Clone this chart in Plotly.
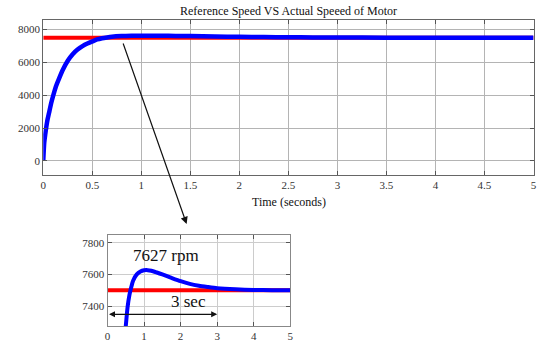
import plotly.graph_objects as go

# ---- data ----
time_s = [0, 0.01, 0.02, 0.04, 0.06, 0.08, 0.1, 0.13, 0.16, 0.2, 0.25, 0.3, 0.35, 0.4, 0.45,
          0.5, 0.55, 0.6, 0.65, 0.7, 0.8, 0.9, 1.0, 1.1, 1.2, 1.35, 1.5, 1.75, 2.0, 2.25,
          2.5, 2.75, 3.0, 3.5, 4.0, 4.5, 5.0]
actual_speed = [0, 1100, 1600, 2400, 2950, 3500, 3950, 4550, 5000, 5550, 6100, 6500, 6780, 6990, 7150,
                7275, 7395, 7470, 7520, 7560, 7600, 7618, 7626, 7627, 7623, 7612, 7600, 7578, 7557, 7540,
                7528, 7520, 7513, 7506, 7502, 7500, 7500]
ref_time = [0, 5]
ref_speed = [7500, 7500]

main_xticks = [0, 0.5, 1, 1.5, 2, 2.5, 3, 3.5, 4, 4.5, 5]
main_yticks = [0, 2000, 4000, 6000, 8000]
inset_xticks = [0, 1, 2, 3, 4, 5]
inset_yticks = [7400, 7600, 7800]

title_text = "Reference Speed VS Actual Speeed of Motor"
xlabel_text = "Time (seconds)"
peak_label = "7627 rpm"
settle_label = "3 sec"
settle_time = 3
arrow_y = 7348

W, H = 539, 347
FONT = "Liberation Serif, Times New Roman, serif"

def px(x):
    return x / W

def py(y):
    return 1 - y / H

fig = go.Figure()

# main
fig.add_trace(go.Scatter(x=ref_time, y=ref_speed, mode="lines",
                         line=dict(color="#ff0000", width=4), xaxis="x", yaxis="y"))
fig.add_trace(go.Scatter(x=time_s, y=actual_speed, mode="lines",
                         line=dict(color="#0000ff", width=4.5, shape="spline", smoothing=0.6),
                         xaxis="x", yaxis="y"))
# inset
fig.add_trace(go.Scatter(x=ref_time, y=ref_speed, mode="lines",
                         line=dict(color="#ff0000", width=4), xaxis="x2", yaxis="y2"))
fig.add_trace(go.Scatter(x=time_s, y=actual_speed, mode="lines",
                         line=dict(color="#0000ff", width=4, shape="spline", smoothing=0.6),
                         xaxis="x2", yaxis="y2"))

axis_common = dict(showline=True, mirror="ticks", ticks="inside", ticklen=4,
                   tickcolor="#555", zeroline=False,
                   tickfont=dict(family=FONT, size=11, color="#333"))

fig.update_layout(
    width=W, height=H,
    margin=dict(l=0, r=0, t=0, b=0),
    paper_bgcolor="white", plot_bgcolor="white",
    showlegend=False,
    font=dict(family=FONT),
    xaxis=dict(domain=[px(40.7), px(536.5)], range=[0, 5], tickvals=main_xticks,
               gridcolor="#b4b4b4", linecolor="#666", anchor="y", **axis_common),
    yaxis=dict(domain=[py(175), py(19.5)], range=[-855, 8611], tickvals=main_yticks,
               gridcolor="#b4b4b4", linecolor="#666", anchor="x", **axis_common),
    xaxis2=dict(domain=[px(105.7), px(290.5)], range=[0, 5], tickvals=inset_xticks,
                gridcolor="#cccccc", linecolor="#888", anchor="y2", **axis_common),
    yaxis2=dict(domain=[py(326), py(235)], range=[7274, 7849], tickvals=inset_yticks,
                gridcolor="#cccccc", linecolor="#888", anchor="x2", **axis_common),
)

annotations = [
    dict(text=title_text, xref="paper", yref="paper", x=px(288.5), y=py(11),
         xanchor="center", yanchor="middle", showarrow=False,
         font=dict(family=FONT, size=12, color="#111")),
    dict(text=xlabel_text, xref="paper", yref="paper", x=px(289), y=py(202),
         xanchor="center", yanchor="middle", showarrow=False,
         font=dict(family=FONT, size=12, color="#111")),
    dict(text=peak_label, xref="paper", yref="paper", x=px(165), y=py(256),
         xanchor="center", yanchor="middle", showarrow=False,
         font=dict(family=FONT, size=17, color="#111")),
    dict(text=settle_label, xref="paper", yref="paper", x=px(188), y=py(301),
         xanchor="center", yanchor="middle", showarrow=False,
         font=dict(family=FONT, size=17, color="#111")),
    # long pointer arrow
    dict(text="", xref="paper", yref="paper", x=px(185.7), y=py(224),
         ax=-64, ay=-182, axref="pixel", ayref="pixel", showarrow=True,
         arrowhead=2, arrowsize=1.2, arrowwidth=1.2, arrowcolor="#111"),
    # settling time double arrow
    dict(text="", xref="x2", yref="y2", x=settle_time, y=arrow_y,
         ax=0, ay=arrow_y, axref="x2", ayref="y2", showarrow=True,
         arrowhead=2, startarrowhead=2, arrowside="end+start",
         arrowsize=1, arrowwidth=1.2, arrowcolor="#111"),
]
fig.update_layout(annotations=annotations)

fig.write_html("out.html",
               config={"displayModeBar": False},
               post_script="document.body.style.margin='0';document.body.style.padding='0';"
                           "document.body.style.overflow='hidden';")
